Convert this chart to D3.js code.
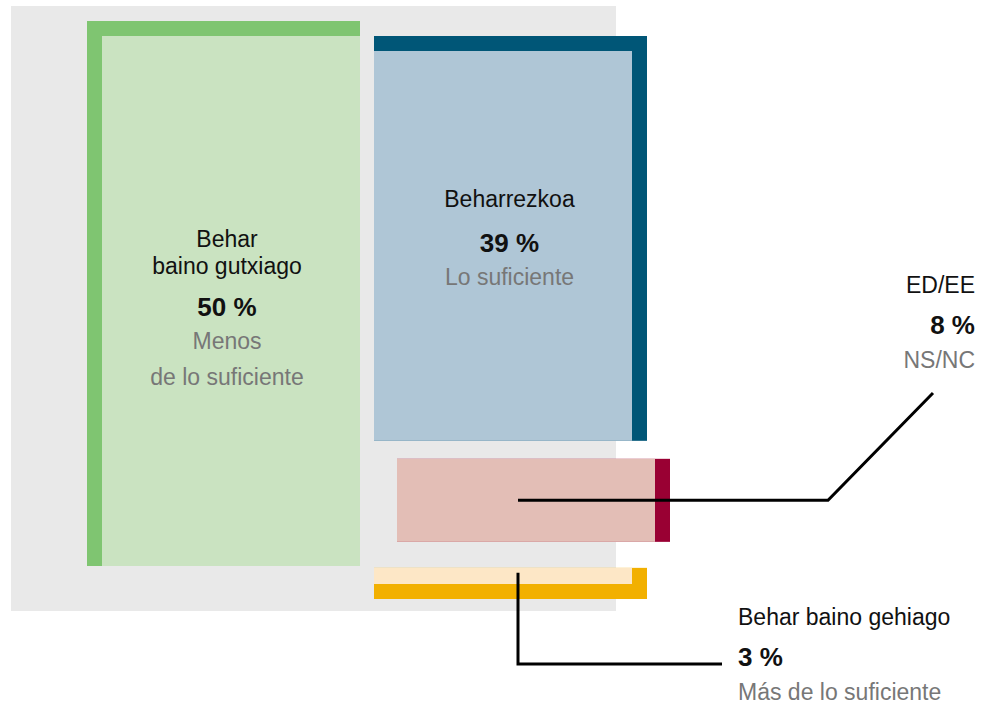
<!DOCTYPE html>
<html lang="eu">
<head>
<meta charset="UTF-8">
<title>Behar baino gutxiago / gehiago</title>
<script src="https://d3js.org/d3.v7.min.js"></script>
<style>
    body { margin: 0; background: #fff; }
    svg text { font-family: "Liberation Sans", Arial, sans-serif; }
    .lbl { font-size: 23px; fill: #111; }
    .pct { font-size: 26px; font-weight: bold; fill: #111; }
    .sub { font-size: 23px; fill: #777; }
</style>
</head>
<body>
<svg width="985" height="708"></svg>
<script>
    // data
    const categories = ["gutxiago", "beharrezkoa", "edee", "gehiago"];
    const labelsEu = [["Behar", "baino gutxiago"], ["Beharrezkoa"], ["ED/EE"], ["Behar baino gehiago"]];
    const labelsEs = [["Menos", "de lo suficiente"], ["Lo suficiente"], ["NS/NC"], ["Más de lo suficiente"]];
    const values = [50, 39, 8, 3];
    const columns = ["left", "right", "right", "right"];

    // styles
    const fillColor = {gutxiago: "#cae3c1", beharrezkoa: "#afc6d6", edee: "#e3beb6", gehiago: "#fde7c6"};
    const accentColor = {gutxiago: "#7fc571", beharrezkoa: "#005677", edee: "#990033", gehiago: "#f2b000"};
    const accentSides = {gutxiago: ["left", "top"], beharrezkoa: ["top", "right"], edee: ["right"], gehiago: ["right", "bottom"]};
    const shiftX = {gutxiago: 0, beharrezkoa: 0, edee: 23, gehiago: 0};
    const border = 15;

    const svg = d3.select("svg");

    // grey backdrop
    svg.append("rect")
        .attr("x", 11).attr("y", 6)
        .attr("width", 605).attr("height", 605)
        .attr("fill", "#e9e9e9");

    // columns
    const x = d3.scaleBand()
        .domain(["left", "right"])
        .range([87, 647])
        .paddingInner(14 / 287);

    // left column: one block, right column: stacked blocks with gaps
    const leftTotal = d3.sum(values.filter((v, i) => columns[i] == "left"));
    const rightTotal = d3.sum(values.filter((v, i) => columns[i] == "right"));
    const gaps = [18, 26];
    const yLeft = d3.scaleLinear().domain([0, leftTotal]).range([0, 566 - 21]);
    const yRight = d3.scaleLinear().domain([0, rightTotal]).range([0, 599 - 36 - d3.sum(gaps)]);

    const blocks = [];
    let curY = 36;
    let gapIdx = 0;
    categories.forEach((c, i) => {
        if (columns[i] == "left") {
            blocks.push({key: c, x: x("left"), y: 21, w: x.bandwidth(), h: yLeft(values[i])});
        } else {
            const h = yRight(values[i]);
            blocks.push({key: c, x: x("right") + shiftX[c], y: curY, w: x.bandwidth(), h: h});
            curY += h + (gaps[gapIdx++] || 0);
        }
    });

    blocks.forEach(b => {
        // accent (dark) rect
        svg.append("rect")
            .attr("x", b.x).attr("y", b.y)
            .attr("width", b.w).attr("height", b.h)
            .attr("fill", accentColor[b.key]);
        // light inner rect
        const s = accentSides[b.key];
        const l = s.includes("left") ? border : 0;
        const r = s.includes("right") ? border : 0;
        const t = s.includes("top") ? border : 0;
        const bt = s.includes("bottom") ? border : 0;
        svg.append("rect")
            .attr("x", b.x + l).attr("y", b.y + t)
            .attr("width", b.w - l - r).attr("height", b.h - t - bt)
            .attr("fill", fillColor[b.key]);
    });

    // labels
    function addLabel(i, cx, anchor, ys) {
        const g = svg.append("g");
        let k = 0;
        labelsEu[i].forEach(t => {
            g.append("text").attr("class", "lbl").attr("x", cx).attr("y", ys[k++])
                .attr("text-anchor", anchor).text(t);
        });
        g.append("text").attr("class", "pct").attr("x", cx).attr("y", ys[k++])
            .attr("text-anchor", anchor).text(values[i] + " %");
        labelsEs[i].forEach(t => {
            g.append("text").attr("class", "sub").attr("x", cx).attr("y", ys[k++])
                .attr("text-anchor", anchor).text(t);
        });
    }

    addLabel(0, 227, "middle", [247, 274, 316, 349, 385]);
    addLabel(1, x("right") + x.bandwidth() / 2 - 1, "middle", [207, 252, 285]);
    addLabel(2, 975, "end", [293, 334, 368]);
    addLabel(3, 738, "start", [625, 666, 700]);

    // leader lines
    const pink = blocks[2];
    const yellow = blocks[3];
    const leadX = x("right") + 144;
    const pinkMid = pink.y + pink.h / 2;

    svg.append("path")
        .attr("d", d3.line()([[leadX, pinkMid], [828, pinkMid], [933, 393]]))
        .attr("fill", "none").attr("stroke", "#000").attr("stroke-width", 3);

    svg.append("path")
        .attr("d", d3.line()([[leadX, yellow.y + 5], [leadX, 664], [722, 664]]))
        .attr("fill", "none").attr("stroke", "#000").attr("stroke-width", 3);
</script>
</body>
</html>
